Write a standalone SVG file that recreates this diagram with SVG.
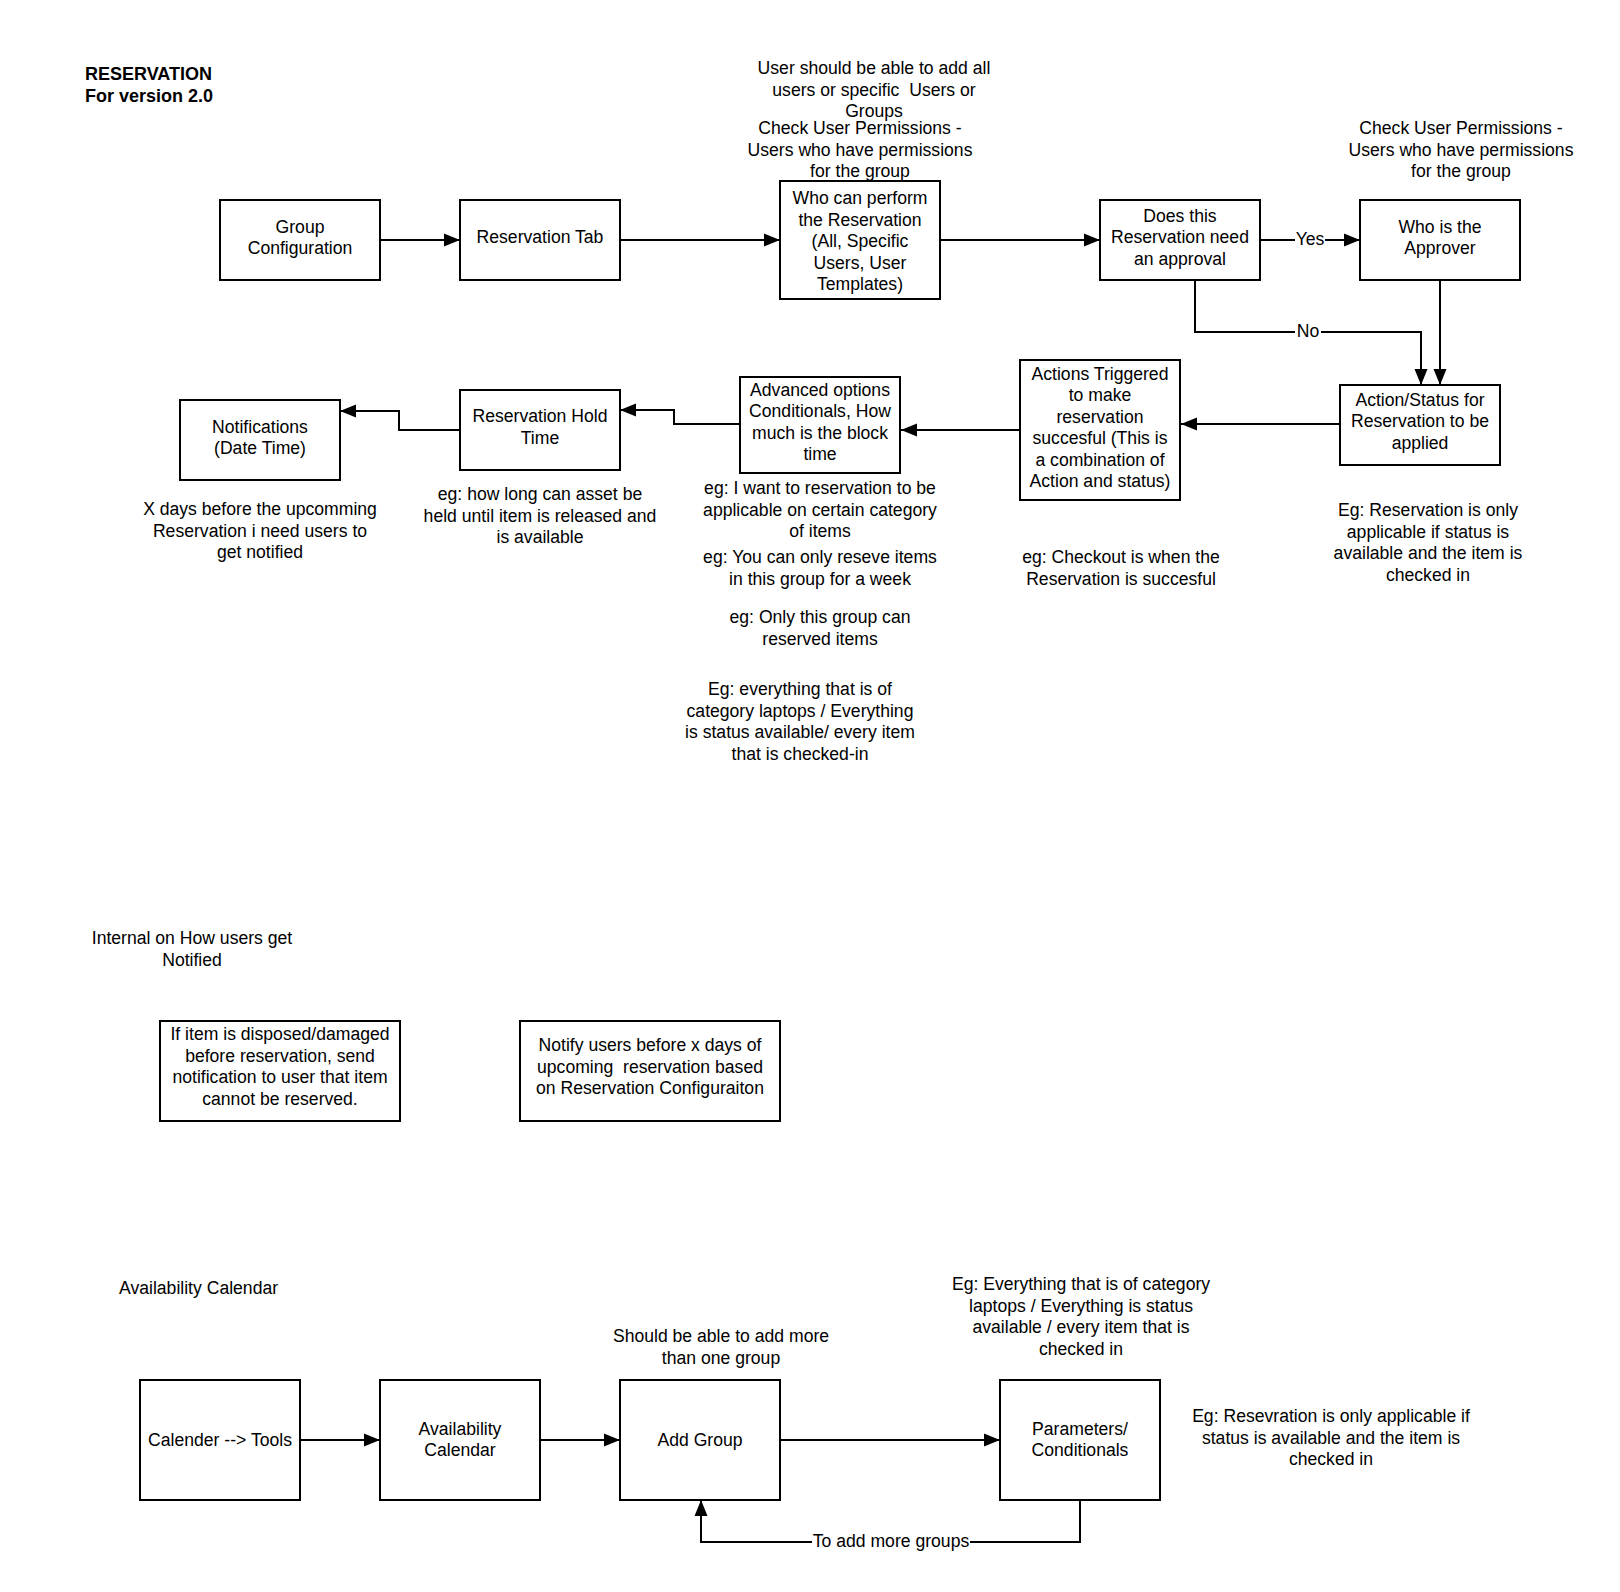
<svg xmlns="http://www.w3.org/2000/svg" width="1620" height="1592" viewBox="0 0 1620 1592">
<defs>
<marker id="ah" markerUnits="userSpaceOnUse" markerWidth="18" markerHeight="14" refX="16" refY="7" orient="auto">
<path d="M0,0.5 L16,7 L0,13.5 z" fill="#000"/>
</marker>
<style>
text{font-family:"Liberation Sans",Arial,sans-serif;font-size:17.6px;fill:#000;text-anchor:middle}
.t{font-weight:bold;text-anchor:start;font-size:18px}
.l{text-anchor:start}
.box{fill:#fff;stroke:#000;stroke-width:2}
.c{fill:none;stroke:#000;stroke-width:2}
.lb{fill:#fff}
</style>
</defs>
<rect width="1620" height="1592" fill="#fff"/>

<g id="title">
<text class="t" x="85" y="80">RESERVATION</text>
<text class="t" x="85" y="102">For version 2.0</text>
</g>

<g id="connectors">
<path class="c" d="M380,240 H460" marker-end="url(#ah)"/>
<path class="c" d="M620,240 H780" marker-end="url(#ah)"/>
<path class="c" d="M940,240 H1100" marker-end="url(#ah)"/>
<path class="c" d="M1260,240 H1360" marker-end="url(#ah)"/>
<path class="c" d="M1195,280 V332 H1421 V385" marker-end="url(#ah)"/>
<path class="c" d="M1440,280 V385" marker-end="url(#ah)"/>
<path class="c" d="M1340,424 H1181" marker-end="url(#ah)"/>
<path class="c" d="M1020,430 H901" marker-end="url(#ah)"/>
<path class="c" d="M740,424 H674 V410 H620" marker-end="url(#ah)"/>
<path class="c" d="M460,430 H399 V411 H340" marker-end="url(#ah)"/>
<path class="c" d="M300,1440 H380" marker-end="url(#ah)"/>
<path class="c" d="M540,1440 H620" marker-end="url(#ah)"/>
<path class="c" d="M780,1440 H1000" marker-end="url(#ah)"/>
<path class="c" d="M1080,1500 V1542 H701 V1500" marker-end="url(#ah)"/>
<rect class="lb" x="1295" y="230" width="30" height="20"/>
<text x="1310" y="245">Yes</text>
<rect class="lb" x="1295" y="322" width="26" height="20"/>
<text x="1308" y="337">No</text>
<rect class="lb" x="812" y="1532" width="158" height="20"/>
<text x="891" y="1547">To add more groups</text>
</g>

<g id="n-group-config">
<rect class="box" x="220" y="200" width="160" height="80"/>
<text x="300" y="233">Group</text>
<text x="300" y="254">Configuration</text>
</g>
<g id="n-reservation-tab">
<rect class="box" x="460" y="200" width="160" height="80"/>
<text x="540" y="243">Reservation Tab</text>
</g>
<g id="n-who-can">
<rect class="box" x="780" y="181" width="160" height="118"/>
<text x="860" y="204">Who can perform</text>
<text x="860" y="225.5">the Reservation</text>
<text x="860" y="247">(All, Specific</text>
<text x="860" y="268.5">Users, User</text>
<text x="860" y="290">Templates)</text>
</g>
<g id="n-approval">
<rect class="box" x="1100" y="200" width="160" height="80"/>
<text x="1180" y="221.5">Does this</text>
<text x="1180" y="243">Reservation need</text>
<text x="1180" y="264.5">an approval</text>
</g>
<g id="n-approver">
<rect class="box" x="1360" y="200" width="160" height="80"/>
<text x="1440" y="233">Who is the</text>
<text x="1440" y="254">Approver</text>
</g>
<g id="n-action-status">
<rect class="box" x="1340" y="385" width="160" height="80"/>
<text x="1420" y="405.5">Action/Status for</text>
<text x="1420" y="427">Reservation to be</text>
<text x="1420" y="448.5">applied</text>
</g>
<g id="n-actions-triggered">
<rect class="box" x="1020" y="360" width="160" height="140"/>
<text x="1100" y="379.5">Actions Triggered</text>
<text x="1100" y="401">to make</text>
<text x="1100" y="422.5">reservation</text>
<text x="1100" y="444">succesful (This is</text>
<text x="1100" y="465.5">a combination of</text>
<text x="1100" y="487">Action and status)</text>
</g>
<g id="n-advanced">
<rect class="box" x="740" y="377" width="160" height="96"/>
<text x="820" y="395.5">Advanced options</text>
<text x="820" y="417">Conditionals, How</text>
<text x="820" y="438.5">much is the block</text>
<text x="820" y="460">time</text>
</g>
<g id="n-hold">
<rect class="box" x="460" y="390" width="160" height="80"/>
<text x="540" y="422">Reservation Hold</text>
<text x="540" y="443.5">Time</text>
</g>
<g id="n-notifications">
<rect class="box" x="180" y="400" width="160" height="80"/>
<text x="260" y="432.5">Notifications</text>
<text x="260" y="454">(Date Time)</text>
</g>

<g id="notes-top">
<text x="874" y="74">User should be able to add all</text>
<text x="874" y="95.5">users or specific&#160; Users or</text>
<text x="874" y="117">Groups</text>
<text x="860" y="134">Check User Permissions -</text>
<text x="860" y="155.5">Users who have permissions</text>
<text x="860" y="177">for the group</text>
<text x="1461" y="134">Check User Permissions -</text>
<text x="1461" y="155.5">Users who have permissions</text>
<text x="1461" y="177">for the group</text>
<text x="260" y="515">X days before the upcomming</text>
<text x="260" y="536.5">Reservation i need users to</text>
<text x="260" y="558">get notified</text>
<text x="540" y="500">eg: how long can asset be</text>
<text x="540" y="521.5">held until item is released and</text>
<text x="540" y="543">is available</text>
<text x="820" y="494">eg: I want to reservation to be</text>
<text x="820" y="515.5">applicable on certain category</text>
<text x="820" y="537">of items</text>
<text x="820" y="563">eg: You can only reseve items</text>
<text x="820" y="584.5">in this group for a week</text>
<text x="820" y="623">eg: Only this group can</text>
<text x="820" y="644.5">reserved items</text>
<text x="800" y="695">Eg: everything that is of</text>
<text x="800" y="716.5">category laptops / Everything</text>
<text x="800" y="738">is status available/ every item</text>
<text x="800" y="759.5">that is checked-in</text>
<text x="1121" y="563">eg: Checkout is when the</text>
<text x="1121" y="584.5">Reservation is succesful</text>
<text x="1428" y="516">Eg: Reservation is only</text>
<text x="1428" y="537.5">applicable if status is</text>
<text x="1428" y="559">available and the item is</text>
<text x="1428" y="580.5">checked in</text>
</g>

<g id="notes-internal">
<text x="192" y="944">Internal on How users get</text>
<text x="192" y="965.5">Notified</text>
</g>
<g id="n-disposed">
<rect class="box" x="160" y="1021" width="240" height="100"/>
<text x="280" y="1040">If item is disposed/damaged</text>
<text x="280" y="1061.5">before reservation, send</text>
<text x="280" y="1083">notification to user that item</text>
<text x="280" y="1104.5">cannot be reserved.</text>
</g>
<g id="n-notify-before">
<rect class="box" x="520" y="1021" width="260" height="100"/>
<text x="650" y="1051">Notify users before x days of</text>
<text x="650" y="1072.5">upcoming&#160; reservation based</text>
<text x="650" y="1094">on Reservation Configuraiton</text>
</g>

<g id="notes-calendar">
<text class="l" x="119" y="1294">Availability Calendar</text>
<text x="721" y="1342">Should be able to add more</text>
<text x="721" y="1363.5">than one group</text>
<text x="1081" y="1290">Eg: Everything that is of category</text>
<text x="1081" y="1311.5">laptops / Everything is status</text>
<text x="1081" y="1333">available / every item that is</text>
<text x="1081" y="1354.5">checked in</text>
<text x="1331" y="1422">Eg: Resevration is only applicable if</text>
<text x="1331" y="1443.5">status is available and the item is</text>
<text x="1331" y="1465">checked in</text>
</g>
<g id="n-calender-tools">
<rect class="box" x="140" y="1380" width="160" height="120"/>
<text x="220" y="1446">Calender --&gt; Tools</text>
</g>
<g id="n-availability">
<rect class="box" x="380" y="1380" width="160" height="120"/>
<text x="460" y="1434.5">Availability</text>
<text x="460" y="1456">Calendar</text>
</g>
<g id="n-add-group">
<rect class="box" x="620" y="1380" width="160" height="120"/>
<text x="700" y="1446">Add Group</text>
</g>
<g id="n-parameters">
<rect class="box" x="1000" y="1380" width="160" height="120"/>
<text x="1080" y="1434.5">Parameters/</text>
<text x="1080" y="1456">Conditionals</text>
</g>
</svg>
